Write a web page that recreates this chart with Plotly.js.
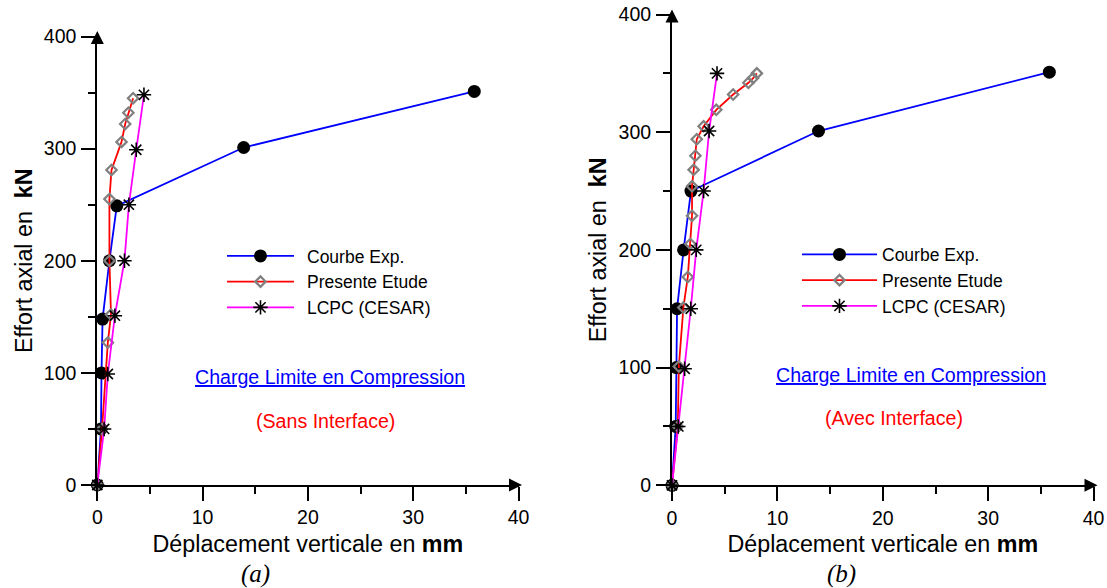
<!DOCTYPE html>
<html>
<head>
<meta charset="utf-8">
<script src="https://cdn.plot.ly/plotly-3.0.1.min.js"></script>
<style>
html,body{margin:0;padding:0;background:#fff;}
#chart{width:1107px;height:588px;}
</style>
</head>
<body>
<div id="chart"></div>
<script>
// ---------- Data (a) Sans Interface ----------
var expXA  = [0, 0.35, 0.4, 0.5, 1.15, 1.85, 13.9, 35.8];
var expYA  = [0, 50, 100, 148, 200, 249, 301, 351];
var presXA = [0, 0.45, 1.0, 1.3, 1.15, 1.15, 1.35, 2.3, 2.65, 2.95, 3.4];
var presYA = [0, 50, 127, 152, 200, 255, 281, 306, 322, 332, 345];
var lcpcXA = [0, 0.65, 1.0, 1.67, 2.58, 3.0, 3.7, 4.43];
var lcpcYA = [0, 50, 99, 151, 200, 250, 299, 348];

// ---------- Data (b) Avec Interface ----------
var expXB  = [0, 0.35, 0.42, 0.48, 1.1, 1.8, 13.9, 35.8];
var expYB  = [0, 50, 100, 150, 200, 250, 301, 351];
var presXB = [0, 0.55, 0.65, 1.08, 1.5, 1.74, 1.9, 1.9, 2.05, 2.22, 2.35, 3.0, 4.2, 5.8, 7.25, 7.7, 8.05];
var presYB = [0, 50, 101, 151, 177, 205, 229, 254, 268, 280, 294, 305, 319, 332, 342, 346, 350];
var lcpcXB = [0, 0.6, 1.2, 1.78, 2.3, 3.0, 3.52, 4.27];
var lcpcYB = [0, 50, 99, 150, 200, 250, 301, 350];

var seriesNames = ['Courbe Exp.', 'Presente Etude', 'LCPC (CESAR)'];
var xTickVals = [0, 10, 20, 30, 40];
var yTickVals = [0, 100, 200, 300, 400];
var xTitle = 'D\u00e9placement verticale en <b>mm</b>';
var yTitle = 'Effort axial en \u00a0<b>kN</b>';
var noteTitle = 'Charge Limite en Compression';
var noteA = '(Sans Interface)';
var noteB = '(Avec Interface)';
var captions = ['(a)', '(b)'];

var FONT = 'Liberation Sans, Arial, sans-serif';
var W = 1107, H = 588;
function px(x){ return x / W; }
function py(y){ return 1 - y / H; }

function makeTraces(ex, ey, prx, pry, lx, ly, xa, ya, leg) {
  return [
    {x: ex, y: ey, xaxis: xa, yaxis: ya, legend: leg, name: seriesNames[0],
     mode: 'lines+markers', cliponaxis: false,
     line: {color: '#0000FF', width: 1.8},
     marker: {symbol: 'circle', size: 13, color: '#000000', line: {width: 0}}},
    {x: prx, y: pry, xaxis: xa, yaxis: ya, legend: leg, name: seriesNames[1],
     mode: 'lines+markers', cliponaxis: false,
     line: {color: '#FF0000', width: 1.8},
     marker: {symbol: 'diamond-open', size: 8, color: '#808080', line: {width: 2.2, color: '#808080'}}},
    {x: lx, y: ly, xaxis: xa, yaxis: ya, legend: leg, name: seriesNames[2],
     mode: 'lines+markers', cliponaxis: false,
     line: {color: '#FF00FF', width: 1.8},
     marker: {symbol: 'asterisk-open', size: 12, color: '#000000', line: {width: 1.6, color: '#000000'}}}
  ];
}

var data = [].concat(
  makeTraces(expXA, expYA, presXA, presYA, lcpcXA, lcpcYA, 'x', 'y', 'legend'),
  makeTraces(expXB, expYB, presXB, presYB, lcpcXB, lcpcYB, 'x2', 'y2', 'legend2')
);

function xAxis(domain, anchor) {
  return {
    domain: domain, anchor: anchor, range: [0, 40],
    showline: true, linecolor: '#000', linewidth: 2,
    ticks: 'outside', ticklen: 14, tickwidth: 2, tickcolor: '#000',
    tickvals: xTickVals, ticktext: xTickVals.map(String),
    minor: {ticks: 'outside', dtick: 5, tick0: 0, ticklen: 7, tickwidth: 2, tickcolor: '#000', showgrid: false},
    showgrid: false, zeroline: false, automargin: false,
    tickfont: {family: FONT, size: 19.5, color: '#000'},
    title: {text: xTitle, font: {family: FONT, size: 23.3, color: '#000'}, standoff: 8}
  };
}
function yAxis(domain, anchor) {
  return {
    domain: domain, anchor: anchor, range: [0, 400],
    showline: true, linecolor: '#000', linewidth: 2,
    ticks: 'outside', ticklen: 14, tickwidth: 2, tickcolor: '#000',
    tickvals: yTickVals, ticktext: yTickVals.map(String),
    minor: {ticks: 'outside', dtick: 50, tick0: 0, ticklen: 7, tickwidth: 2, tickcolor: '#000', showgrid: false},
    showgrid: false, zeroline: false, automargin: false,
    ticklabelstandoff: 1,
    tickfont: {family: FONT, size: 19.5, color: '#000'},
    title: {text: yTitle, font: {family: FONT, size: 23.3, color: '#000'}, standoff: 5}
  };
}

// axis-end arrowheads (decoration, paper coordinates)
function arrowHead(x, y, ax, ay) {
  return {x: px(x), y: py(y), xref: 'paper', yref: 'paper', ax: ax, ay: ay, text: ' ', font: {size: 1},
          showarrow: true, arrowhead: 2, arrowsize: 1.3, arrowwidth: 2, arrowcolor: '#000'};
}
function note(text, x, y, color, size) {
  return {x: px(x), y: py(y), xref: 'paper', yref: 'paper', text: text, showarrow: false,
          xanchor: 'center', yanchor: 'middle', font: {family: FONT, size: size, color: color}};
}
function caption(text, x, y) {
  return {x: px(x), y: py(y), xref: 'paper', yref: 'paper', text: '<i>' + text + '</i>', showarrow: false,
          xanchor: 'center', yanchor: 'middle', font: {family: 'Liberation Serif, Times New Roman, serif', size: 25, color: '#000'}};
}

function legendCfg(x, y) {
  return {x: px(x), y: py(y), xanchor: 'left', yanchor: 'top', bgcolor: 'rgba(0,0,0,0)',
          borderwidth: 0, itemwidth: 75, font: {family: FONT, size: 17.5, color: '#000'},
          itemclick: false, itemdoubleclick: false};
}

var layout = {
  width: W, height: H,
  margin: {l: 0, r: 0, t: 0, b: 0},
  paper_bgcolor: '#fff', plot_bgcolor: '#fff',
  showlegend: true,
  xaxis: xAxis([px(97.3), px(518.5)], 'y'),
  yaxis: yAxis([py(485), py(36.5)], 'x'),
  xaxis2: xAxis([px(672), px(1093.6)], 'y2'),
  yaxis2: yAxis([py(485.3), py(14.5)], 'x2'),
  legend: legendCfg(222, 238),
  legend2: legendCfg(797, 236.5),
  annotations: [
    arrowHead(522, 485, -14, 0), arrowHead(97.3, 31, 0, 14),
    arrowHead(1097.5, 485.3, -14, 0), arrowHead(672, 9.5, 0, 14),
    note('<u>' + noteTitle + '</u>', 330, 377, '#0000FF', 19.6),
    note(noteA, 325, 421, '#FF0000', 19.6),
    note('<u>' + noteTitle + '</u>', 911, 374.5, '#0000FF', 19.6),
    note(noteB, 894, 417.5, '#FF0000', 19.6),
    caption(captions[0], 255, 574),
    caption(captions[1], 841, 574)
  ]
};

Plotly.newPlot('chart', data, layout, {staticPlot: true, displayModeBar: false}).then(function(gd){
  // lengthen legend key lines to match the reference style
  var lines = gd.querySelectorAll('.legend .legendlines path.js-line');
  lines.forEach(function(p){ p.setAttribute('d', 'M5,0h67'); });
  var pts = gd.querySelectorAll('.legend .legendpoints path.scatterpts');
  pts.forEach(function(p){ p.setAttribute('transform', 'translate(38.5,0)'); });
});
</script>
</body>
</html>
